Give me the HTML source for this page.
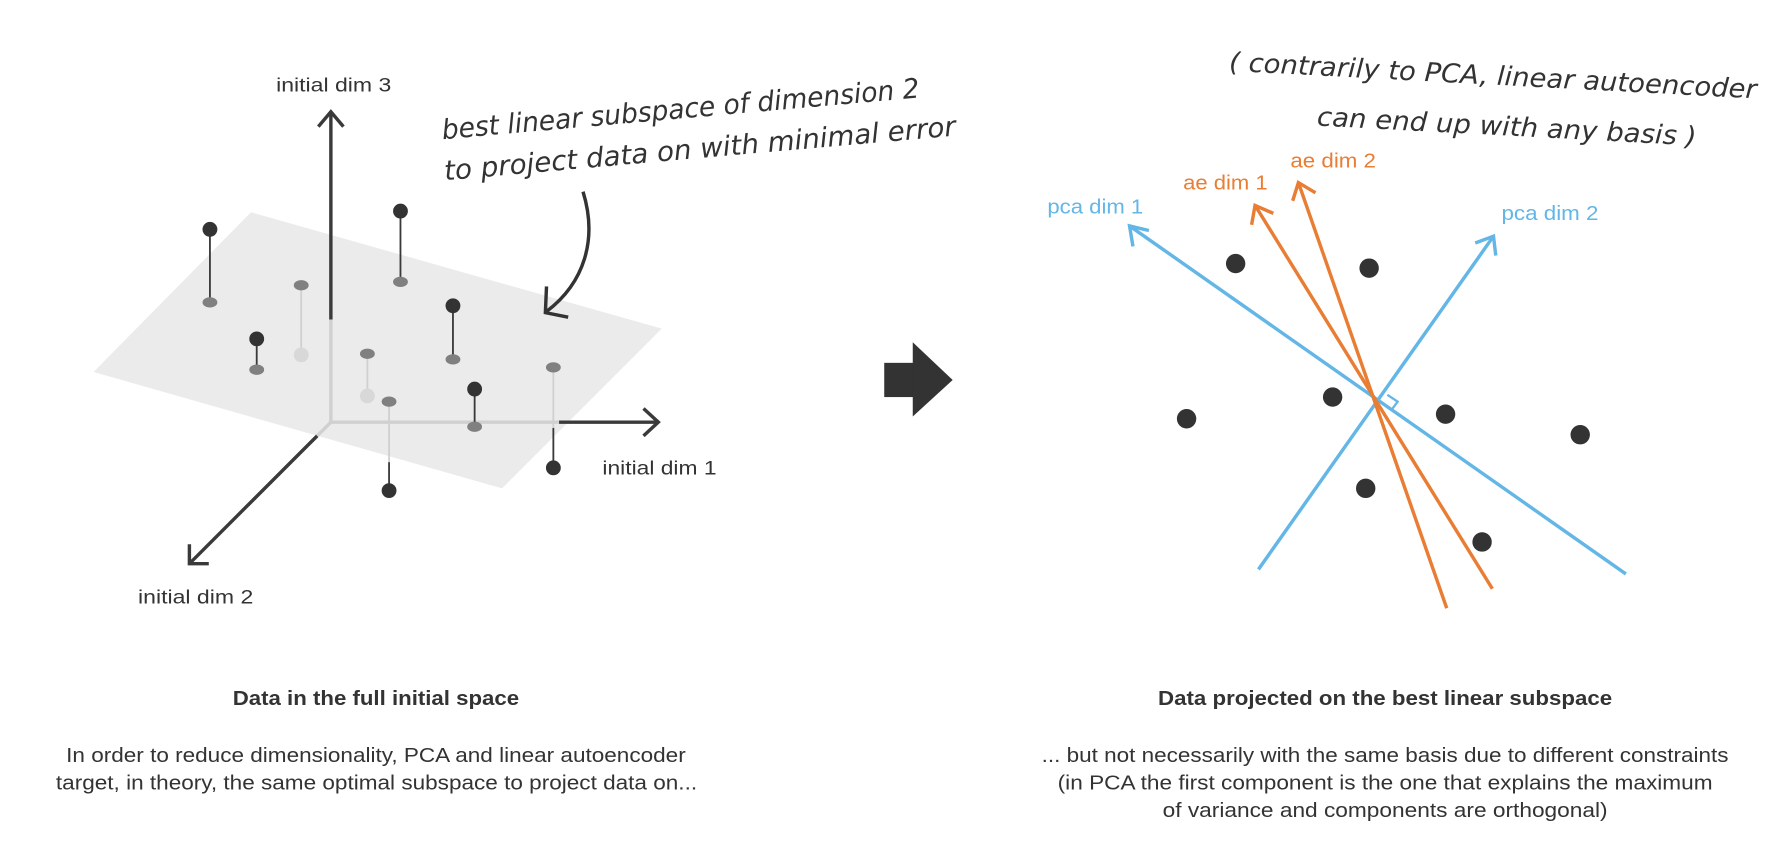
<!DOCTYPE html>
<html><head><meta charset="utf-8"><style>
html,body{margin:0;padding:0;background:#fff;width:1789px;height:852px;overflow:hidden}
svg{display:block}
text{font-family:"Liberation Sans",sans-serif;fill:#333}
.h{font-family:"DejaVu Sans","Liberation Sans",sans-serif;font-style:italic;fill:#333}
</style></head><body>
<svg width="1789" height="852" viewBox="0 0 1568 746.7" preserveAspectRatio="none" xmlns="http://www.w3.org/2000/svg">
<polygon points="82,326 220,186 580,288 440,428" fill="#ebebeb"/>
<line x1="290" y1="370" x2="290" y2="280" stroke="#d0d0d0" stroke-width="3"/>
<line x1="290" y1="280" x2="290" y2="98" stroke="#3a3a3a" stroke-width="3"/>
<polyline points="279,111 290,98 301,111" fill="none" stroke="#3a3a3a" stroke-width="3"/>
<line x1="290" y1="370" x2="490" y2="370" stroke="#d0d0d0" stroke-width="3"/>
<line x1="490" y1="370" x2="577" y2="370" stroke="#3a3a3a" stroke-width="3"/>
<polyline points="564,358 577,370 564,382" fill="none" stroke="#3a3a3a" stroke-width="3"/>
<line x1="290" y1="370" x2="278" y2="382" stroke="#d0d0d0" stroke-width="3"/>
<line x1="278" y1="382" x2="166" y2="494" stroke="#3a3a3a" stroke-width="3"/>
<polyline points="166,477 166,494 183,494" fill="none" stroke="#3a3a3a" stroke-width="3"/>
<text x="242" y="80" font-size="17" textLength="101" lengthAdjust="spacingAndGlyphs">initial dim 3</text>
<text x="528" y="416" font-size="17" textLength="100" lengthAdjust="spacingAndGlyphs">initial dim 1</text>
<text x="121" y="529" font-size="17" textLength="101" lengthAdjust="spacingAndGlyphs">initial dim 2</text>
<g stroke="#3a3a3a" stroke-width="1.6">
<line x1="184" y1="201" x2="184" y2="264"/><line x1="351" y1="185" x2="351" y2="247"/>
<line x1="225" y1="297" x2="225" y2="324"/><line x1="397" y1="268" x2="397" y2="315"/>
<line x1="416" y1="341" x2="416" y2="374"/><line x1="485" y1="410" x2="485" y2="375"/>
<line x1="341" y1="430" x2="341" y2="405"/>
</g>
<g stroke="#d0d0d0" stroke-width="1.6">
<line x1="485" y1="375" x2="485" y2="322"/><line x1="341" y1="405" x2="341" y2="352"/>
<line x1="264" y1="250" x2="264" y2="311"/><line x1="322" y1="310" x2="322" y2="347"/>
</g>
<g fill="#808080">
<ellipse cx="184" cy="265" rx="6.5" ry="4.5"/><ellipse cx="351" cy="247" rx="6.5" ry="4.5"/>
<ellipse cx="225" cy="324" rx="6.5" ry="4.5"/><ellipse cx="397" cy="315" rx="6.5" ry="4.5"/>
<ellipse cx="416" cy="374" rx="6.5" ry="4.5"/><ellipse cx="485" cy="322" rx="6.5" ry="4.5"/>
<ellipse cx="341" cy="352" rx="6.5" ry="4.5"/><ellipse cx="264" cy="250" rx="6.5" ry="4.5"/>
<ellipse cx="322" cy="310" rx="6.5" ry="4.5"/>
</g>
<g fill="#d8d8d8"><circle cx="264" cy="311" r="6.5"/><circle cx="322" cy="347" r="6.5"/></g>
<g fill="#333">
<circle cx="184" cy="201" r="6.5"/><circle cx="351" cy="185" r="6.5"/><circle cx="225" cy="297" r="6.5"/>
<circle cx="397" cy="268" r="6.5"/><circle cx="416" cy="341" r="6.5"/><circle cx="485" cy="410" r="6.5"/>
<circle cx="341" cy="430" r="6.5"/>
</g>
<text class="h" x="388" y="122" font-size="24" textLength="420" lengthAdjust="spacingAndGlyphs" transform="rotate(-5 388 122)">best linear subspace of dimension 2</text>
<text class="h" x="390" y="158" font-size="24" textLength="450" lengthAdjust="spacingAndGlyphs" transform="rotate(-5 390 158)">to project data on with minimal error</text>
<path d="M511,168 C524,210 512,248 479,273" fill="none" stroke="#333" stroke-width="3"/>
<polyline points="479,251 478,274 498,278" fill="none" stroke="#333" stroke-width="3"/>
<rect x="775" y="318" width="26" height="30" fill="#333"/>
<polygon points="800,300 835,333 800,365" fill="#333"/>
<text class="h" x="1077" y="62" font-size="23" textLength="463" lengthAdjust="spacingAndGlyphs" transform="rotate(3 1077 62)">( contrarily to PCA, linear autoencoder</text>
<text class="h" x="1154" y="110" font-size="23" textLength="333" lengthAdjust="spacingAndGlyphs" transform="rotate(3 1154 110)">can end up with any basis )</text>
<g fill="none" stroke-width="3">
<line x1="1425" y1="503" x2="990" y2="198" stroke="#63b6e6"/>
<polyline points="993,216 990,198 1007,202" stroke="#63b6e6"/>
<line x1="1103" y1="499" x2="1309" y2="207" stroke="#63b6e6"/>
<polyline points="1293,213 1309,207 1311,224" stroke="#63b6e6"/>
<polyline points="1216,346 1225,352 1219,360" stroke="#63b6e6" stroke-width="2"/>
<line x1="1308" y1="516" x2="1100" y2="180" stroke="#e87d33"/>
<polyline points="1097,197 1100,180 1116,187" stroke="#e87d33"/>
<line x1="1268" y1="533" x2="1138" y2="160" stroke="#e87d33"/>
<polyline points="1133,176 1138,160 1153,169" stroke="#e87d33"/>
</g>
<text x="918" y="187" font-size="18" style="fill:#63b6e6" textLength="84" lengthAdjust="spacingAndGlyphs">pca dim 1</text>
<text x="1037" y="166" font-size="18" style="fill:#e87d33" textLength="74" lengthAdjust="spacingAndGlyphs">ae dim 1</text>
<text x="1131" y="147" font-size="18" style="fill:#e87d33" textLength="75" lengthAdjust="spacingAndGlyphs">ae dim 2</text>
<text x="1316" y="193" font-size="18" style="fill:#63b6e6" textLength="85" lengthAdjust="spacingAndGlyphs">pca dim 2</text>
<g fill="#333">
<circle cx="1083" cy="231" r="8.5"/><circle cx="1200" cy="235" r="8.5"/><circle cx="1040" cy="367" r="8.5"/>
<circle cx="1168" cy="348" r="8.5"/><circle cx="1267" cy="363" r="8.5"/><circle cx="1385" cy="381" r="8.5"/>
<circle cx="1197" cy="428" r="8.5"/><circle cx="1299" cy="475" r="8.5"/>
</g>
<text x="204" y="618" font-size="18" font-weight="bold" textLength="251" lengthAdjust="spacingAndGlyphs">Data in the full initial space</text>
<text x="58" y="668" font-size="18" textLength="543" lengthAdjust="spacingAndGlyphs">In order to reduce dimensionality, PCA and linear autoencoder</text>
<text x="49" y="692" font-size="18" textLength="562" lengthAdjust="spacingAndGlyphs">target, in theory, the same optimal subspace to project data on...</text>
<text x="1015" y="618" font-size="18" font-weight="bold" textLength="398" lengthAdjust="spacingAndGlyphs">Data projected on the best linear subspace</text>
<text x="913" y="668" font-size="18" textLength="602" lengthAdjust="spacingAndGlyphs">... but not necessarily with the same basis due to different constraints</text>
<text x="927" y="692" font-size="18" textLength="574" lengthAdjust="spacingAndGlyphs">(in PCA the first component is the one that explains the maximum</text>
<text x="1019" y="716" font-size="18" textLength="390" lengthAdjust="spacingAndGlyphs">of variance and components are orthogonal)</text>
</svg>
</body></html>
